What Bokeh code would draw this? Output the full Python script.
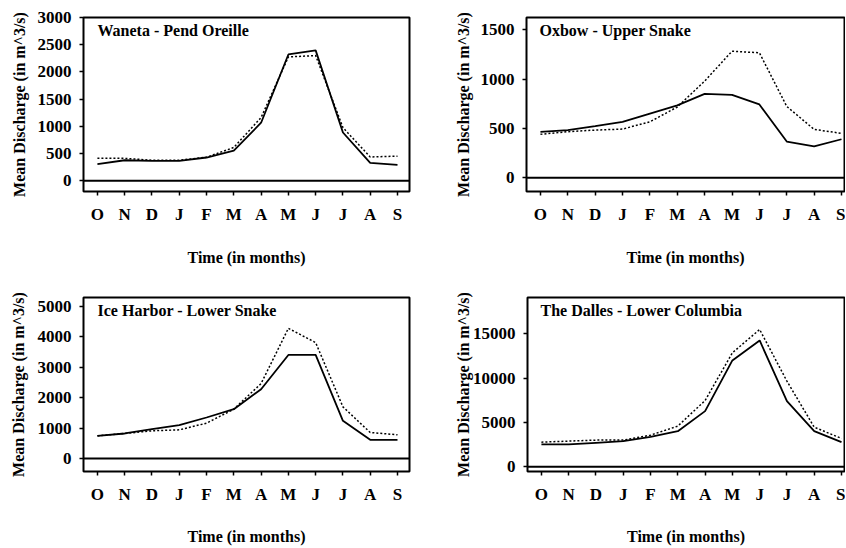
from bokeh.plotting import figure
from bokeh.layouts import column, row
from bokeh.models import Range1d, FixedTicker, Span, Label
from bokeh.embed import file_html
from bokeh.resources import INLINE

months = ["O", "N", "D", "J", "F", "M", "A", "M", "J", "J", "A", "S"]
month_idx = list(range(len(months)))

waneta_solid = [305, 375, 365, 365, 425, 550, 1065, 2320, 2395, 885, 325, 290]
waneta_dotted = [410, 410, 375, 375, 430, 610, 1160, 2275, 2300, 975, 435, 450]

oxbow_solid = [465, 483, 523, 567, 650, 733, 850, 840, 743, 367, 317, 390]
oxbow_dotted = [440, 467, 483, 493, 567, 717, 980, 1283, 1267, 723, 490, 450]

ice_solid = [745, 822, 964, 1096, 1348, 1622, 2280, 3408, 3408, 1238, 614, 614]
ice_dotted = [745, 822, 910, 942, 1162, 1622, 2466, 4285, 3814, 1699, 855, 778]

dalles_solid = [2520, 2520, 2700, 2890, 3380, 4020, 6280, 12000, 14250, 7400, 4020, 2780]
dalles_dotted = [2780, 2900, 3010, 3010, 3570, 4590, 7480, 12860, 15490, 9660, 4470, 3200]

titles = ["Waneta - Pend Oreille", "Oxbow - Upper Snake",
          "Ice Harbor - Lower Snake", "The Dalles - Lower Columbia"]
yticks_waneta = [0, 500, 1000, 1500, 2000, 2500, 3000]
yticks_oxbow = [0, 500, 1000, 1500]
yticks_ice = [0, 1000, 2000, 3000, 4000, 5000]
yticks_dalles = [0, 5000, 10000, 15000]

FONT = "Liberation Serif"


def panel(title, solid, dotted, yr, yticks, xr, w, h, mbl, mbr, mbt, mbb,
          ylab_standoff, xlab_standoff, title_dx, title_dy):
    p = figure(width=w, height=h, output_backend="svg", toolbar_location=None,
               x_range=Range1d(*xr), y_range=Range1d(*yr),
               min_border_left=mbl, min_border_right=mbr,
               min_border_top=mbt, min_border_bottom=mbb,
               background_fill_color="white", border_fill_color="white")
    p.grid.visible = False
    p.outline_line_color = "black"
    p.outline_line_width = 2
    p.outline_line_alpha = 1.0

    p.xaxis.ticker = FixedTicker(ticks=month_idx)
    p.xaxis.major_label_overrides = {i: m for i, m in enumerate(months)}
    p.yaxis.ticker = FixedTicker(ticks=yticks)
    for ax in (p.xaxis, p.yaxis):
        ax.axis_line_color = None
        ax.major_tick_in = 0
        ax.major_tick_out = 4
        ax.major_tick_line_width = 1.5
        ax.minor_tick_line_color = None
        ax.major_label_text_font = FONT
        ax.major_label_text_font_style = "bold"
        ax.major_label_text_font_size = "17px"
        ax.major_label_text_color = "black"
        ax.axis_label_text_font = FONT
        ax.axis_label_text_font_style = "bold"
        ax.axis_label_text_font_size = "16px"
        ax.axis_label_text_color = "black"
    p.xaxis.major_label_standoff = 9
    p.yaxis.major_label_standoff = 8
    p.xaxis.axis_label = "Time (in months)"
    p.yaxis.axis_label = "Mean Discharge (in m^3/s)"
    p.xaxis.axis_label_standoff = xlab_standoff
    p.yaxis.axis_label_standoff = ylab_standoff

    p.add_layout(Span(location=0, dimension="width", line_color="black", line_width=2))

    p.line(month_idx, dotted, line_color="black", line_width=1.5, line_dash="2 2")
    p.line(month_idx, solid, line_color="black", line_width=1.8)

    fh = h - mbt - mbb
    p.add_layout(Label(x=title_dx, y=fh - title_dy, x_units="screen", y_units="screen",
                       text=title, text_baseline="top", text_align="left",
                       text_font=FONT, text_font_style="bold", text_font_size="16px",
                       text_color="black"))
    return p


p1 = panel(titles[0], waneta_solid, waneta_dotted, (-200, 3000), yticks_waneta,
           (-0.51, 11.44), 423, 274, 83, 14, 16, 83, 7, 22, 14, 5)
p2 = panel(titles[1], oxbow_solid, oxbow_dotted, (-140, 1625), yticks_oxbow,
           (-0.51, 11.11), 422, 274, 103, 1, 17, 82, 6, 22, 13, 5)
p3 = panel(titles[2], ice_solid, ice_dotted, (-430, 5300), yticks_ice,
           (-0.51, 11.44), 423, 273, 83, 14, 23, 76, 8, 21, 14, 4)
p4 = panel(titles[3], dalles_solid, dalles_dotted, (-530, 19100), yticks_dalles,
           (-0.51, 11.11), 422, 273, 104, 1, 23, 76, -2, 21, 13, 4)

layout = column(row(p1, p2), row(p3, p4))
open("out.html", "w").write(file_html(layout, INLINE))
